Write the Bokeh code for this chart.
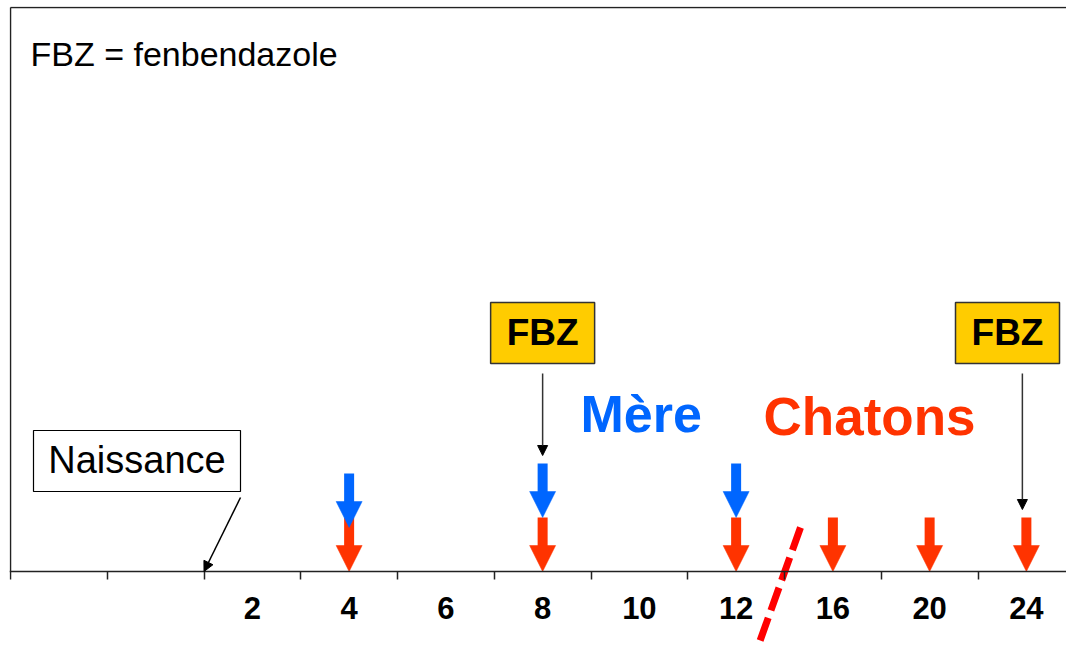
from bokeh.plotting import figure
from bokeh.models import Range1d, LinearAxis, FixedTicker, Arrow, NormalHead
from bokeh.core.properties import value
from bokeh.embed import file_html
from bokeh.resources import INLINE

# ---------------- data ----------------
week_labels = ["2", "4", "6", "8", "10", "12", "16", "20", "24"]
lead_slots = 2                      # empty slots before the first labelled week
mere_weeks = ["4", "8", "12"]
chatons_weeks = ["4", "8", "12", "16", "20", "24"]
fbz_weeks = ["8", "24"]
birth_label = "Naissance"
note_text = "FBZ = fenbendazole"
fbz_text = "FBZ"
mere_text = "Mère"
chatons_text = "Chatons"

# ---------------- layout constants ----------------
PX = 96.75          # pixels per slot
W, H = 1066, 646
LEFT, TOP = 9, 6    # frame starts one pixel before the drawn border lines
AXIS_PX = 571       # pixel row of the time axis
FONT = value("Liberation Sans")
BLUE = "#0066FF"
RED = "#FF3300"
XMIN = -1 / PX
XMAX = (W - LEFT) / PX + XMIN
YTOP = AXIS_PX - TOP
YBOT = AXIS_PX - H
TOP_LINE = YTOP - 1


def xpos(w):
    return lead_slots + week_labels.index(w) + 0.5


def px(n):
    return n / PX


p = figure(width=W, height=H, x_range=Range1d(XMIN, XMAX), y_range=Range1d(YBOT, YTOP),
           x_axis_type=None, y_axis_type=None, output_backend="svg", toolbar_location=None,
           min_border_left=LEFT, min_border_right=0, min_border_top=TOP, min_border_bottom=0)
p.outline_line_color = None
p.background_fill_color = "white"
p.border_fill_color = "white"

# ---------------- axis ----------------
centers = [xpos(w) for w in week_labels]
bounds = list(range(0, lead_slots + len(week_labels)))
ax = LinearAxis(fixed_location=0, ticker=FixedTicker(ticks=centers, minor_ticks=bounds),
                major_label_overrides={c: w for c, w in zip(centers, week_labels)})
ax.axis_line_color = "#222222"
ax.axis_line_width = 1.5
ax.major_tick_out = 0
ax.major_tick_in = 0
ax.minor_tick_out = 8
ax.minor_tick_in = 0
ax.minor_tick_line_color = "#222222"
ax.minor_tick_line_width = 1.5
ax.major_label_text_font = "Liberation Sans"
ax.major_label_text_font_style = "bold"
ax.major_label_text_font_size = "31px"
ax.major_label_text_color = "black"
ax.major_label_standoff = 17
p.add_layout(ax, "below")

# left and top border lines
p.segment(x0=[0, 0], y0=[0, TOP_LINE], x1=[0, XMAX], y1=[TOP_LINE, TOP_LINE],
          line_color="#222222", line_width=1.5)

# ---------------- thick arrows ----------------
HEAD_H = 26
LEN = 54
HALF_HEAD = px(13)


def thick_arrows(weeks, tips, color):
    xs = [xpos(w) for w in weeks]
    p.segment(x0=xs, y0=[t + HEAD_H - 1 for t in tips], x1=xs, y1=[t + LEN for t in tips],
              line_color=color, line_width=10, line_cap="butt")
    p.patches(xs=[[x - HALF_HEAD, x + HALF_HEAD, x] for x in xs],
              ys=[[t + HEAD_H, t + HEAD_H, t] for t in tips],
              fill_color=color, line_color=color, line_width=0.5)


red_tips = [0 for _ in chatons_weeks]
blue_tips = [LEN - 10 if w == "4" else LEN for w in mere_weeks]
thick_arrows(chatons_weeks, red_tips, RED)
thick_arrows(mere_weeks, blue_tips, BLUE)

# ---------------- FBZ boxes ----------------
BOX_W, BOX_H, BOX_Y = 104, 61, 238.5
box_x = [min(xpos(w), XMAX - px(BOX_W / 2 + 7)) for w in fbz_weeks]
p.rect(x=box_x, y=[BOX_Y] * len(fbz_weeks), width=px(BOX_W), height=BOX_H,
       fill_color="#FFCC00", line_color="#333333", line_width=1.5)
p.text(x=box_x, y=[BOX_Y - 13.5 + 14] * len(fbz_weeks), text=[fbz_text] * len(fbz_weeks),
       text_font=FONT, text_font_style="bold", text_font_size="37px",
       text_align="center", text_baseline="alphabetic", text_color="black")

for w, bx in zip(fbz_weeks, box_x):
    top = (blue_tips[mere_weeks.index(w)] if w in mere_weeks else 0) + LEN
    x_arrow = xpos(w) if bx == xpos(w) else xpos(w) - px(4)
    p.add_layout(Arrow(end=NormalHead(size=10, fill_color="black", line_color="black", line_width=1),
                       x_start=x_arrow, y_start=BOX_Y - BOX_H / 2 - 10,
                       x_end=x_arrow, y_end=top + 8,
                       line_color="#333333", line_width=1.5))

# ---------------- Naissance ----------------
p.rect(x=[px(126.5)], y=[110.5], width=px(207), height=61,
       fill_color="white", line_color="black", line_width=1.2)
p.text(x=[px(126.5)], y=[98 + 14], text=[birth_label], text_font=FONT, text_font_size="38px",
       text_align="center", text_baseline="alphabetic", text_color="black")
p.add_layout(Arrow(end=NormalHead(size=10, fill_color="black", line_color="black", line_width=1),
                   x_start=px(230), y_start=74, x_end=float(lead_slots), y_end=0,
                   line_color="black", line_width=1.5))

# ---------------- titles ----------------
p.text(x=[px(20)], y=[503 + 15], text=[note_text], text_font=FONT, text_font_size="34px",
       text_align="left", text_baseline="alphabetic", text_color="black")
p.text(x=[px(570)], y=[139 + 19], text=[mere_text], text_font=FONT, text_font_style="bold",
       text_font_size="52px", text_align="left", text_baseline="alphabetic", text_color=BLUE)
p.text(x=[px(753)], y=[136 + 19], text=[chatons_text], text_font=FONT, text_font_style="bold",
       text_font_size="53px", text_align="left", text_baseline="alphabetic", text_color=RED)

# ---------------- break mark ----------------
p.segment(x0=[px(790)], y0=[44], x1=[px(745)], y1=[-82],
          line_color="#FF0000", line_width=7, line_dash="24 8", line_cap="butt")

open("out.html", "w").write(file_html(p, INLINE))
